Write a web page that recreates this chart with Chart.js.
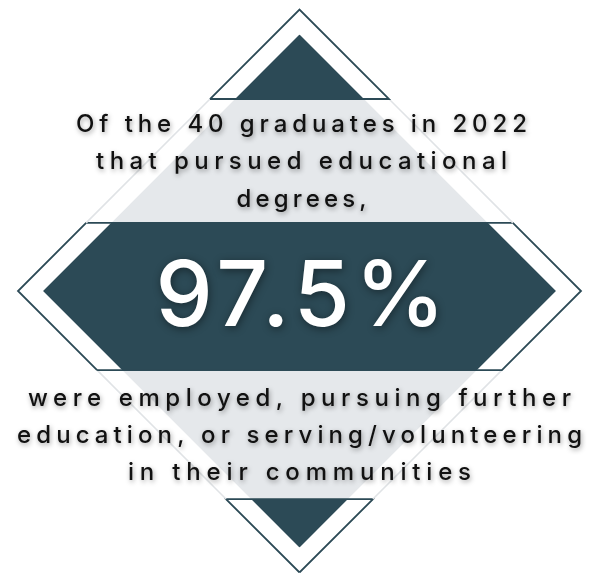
<!DOCTYPE html>
<html>
<head>
<meta charset="utf-8">
<script src="https://cdn.jsdelivr.net/npm/chart.js@4.4.0/dist/chart.umd.min.js"></script>
<style>
  html, body { margin: 0; padding: 0; background: #fff; }
  .wrap { position: relative; width: 603px; height: 573px; }
</style>
</head>
<body>
<div class="wrap"><canvas id="statChart"></canvas></div>
<script>
const graduates = 40;
const cohortYear = 2022;
const successRate = 97.5;
const headlineLines = [`Of the ${graduates} graduates in ${cohortYear}`, 'that pursued educational', 'degrees,'];
const footerLines = ['were employed, pursuing further', 'education, or serving/volunteering', 'in their communities'];

// diamond in unit space: thin outline at radius 1, filled body inset a little
const outlineRadius = 1;
const bodyRadius = 0.911;
// horizontal cuts between the bands, top to bottom
const bandCuts = [0.682, 0.242, -0.281, -0.739];
const bandShades = ['dark', 'light', 'dark', 'light', 'dark'];

const palette = {
  dark: '#2c4a56',
  light: '#e5e8eb',
  lightLine: '#e0e3e6',
  text: '#111',
};

const halfWidth = (radius, y) => Math.max(0, radius - Math.abs(y));

function edgePoints(radius, lo, hi, side) {
  const ys = [lo];
  if (lo < 0 && hi > 0) ys.push(0);
  ys.push(hi);
  return ys.map((y) => ({ x: side * halfWidth(radius, y), y }));
}

function bandRange(i, radius) {
  const top = i === 0 ? radius : Math.min(bandCuts[i - 1], radius);
  const bottom = i === bandShades.length - 1 ? -radius : Math.max(bandCuts[i], -radius);
  return [bottom, top];
}

const outlineSets = [];
const fillSets = [];

bandShades.forEach((shade, i) => {
  // filled body: left edge filled across to right edge
  const [lo, hi] = bandRange(i, bodyRadius);
  fillSets.push({
    data: edgePoints(bodyRadius, lo, hi, -1),
    backgroundColor: palette[shade],
    borderWidth: 0,
    fill: '+1',
    order: 1,
  });
  fillSets.push({
    data: edgePoints(bodyRadius, lo, hi, 1),
    borderWidth: 0,
    fill: false,
    order: 1,
  });

  // outline
  const [olo, ohi] = bandRange(i, outlineRadius);
  const left = edgePoints(outlineRadius, olo, ohi, -1);
  const right = edgePoints(outlineRadius, olo, ohi, 1);
  if (shade === 'dark') {
    outlineSets.push({
      data: [...left, ...right.reverse(), left[0]],
      borderColor: palette.dark,
      borderWidth: 1.8,
      fill: false,
      order: 0,
    });
  } else {
    [left, right].forEach((side) => {
      outlineSets.push({
        data: side,
        borderColor: palette.lightLine,
        borderWidth: 1.6,
        fill: false,
        order: 0,
      });
    });
  }
});

function drawSpacedText(ctx, text, cx, baseline, width) {
  ctx.textAlign = 'left';
  ctx.textBaseline = 'alphabetic';
  if ('letterSpacing' in ctx) {
    ctx.letterSpacing = '0px';
    const natural = ctx.measureText(text).width;
    const gap = text.length > 1 ? (width - natural) / (text.length - 1) : 0;
    ctx.letterSpacing = `${gap}px`;
    ctx.fillText(text, cx - width / 2, baseline);
    ctx.letterSpacing = '0px';
    return;
  }
  const chars = [...text];
  const natural = chars.reduce((sum, c) => sum + ctx.measureText(c).width, 0);
  const gap = chars.length > 1 ? (width - natural) / (chars.length - 1) : 0;
  let x = cx - width / 2;
  chars.forEach((c) => {
    ctx.fillText(c, x, baseline);
    x += ctx.measureText(c).width + gap;
  });
}

const textPlugin = {
  id: 'infographicText',
  afterDatasetsDraw(chart) {
    const { ctx, scales } = chart;
    const cx = scales.x.getPixelForValue(0);

    ctx.save();
    ctx.fillStyle = palette.text;
    ctx.shadowColor = 'rgba(0,0,0,0.38)';
    ctx.shadowBlur = 5;
    ctx.shadowOffsetX = 1;
    ctx.shadowOffsetY = 2;
    ctx.font = '500 24px Inter, "Open Sans", sans-serif';

    const headWidths = [451, 411, 130];
    const headBase = [132, 169, 207];
    headlineLines.forEach((line, i) => drawSpacedText(ctx, line, cx + 2, headBase[i], headWidths[i]));

    const footWidths = [543, 565, 343];
    const footBase = [406, 443, 480];
    footerLines.forEach((line, i) => drawSpacedText(ctx, line, cx, footBase[i], footWidths[i]));

    ctx.fillStyle = '#fff';
    ctx.shadowColor = 'rgba(0,0,0,0.45)';
    ctx.shadowBlur = 8;
    ctx.shadowOffsetX = 1;
    ctx.shadowOffsetY = 2;
    ctx.font = '500 91px Inter, "Open Sans", sans-serif';
    drawSpacedText(ctx, `${successRate}%`, cx + 1, 326, 290);
    ctx.restore();
  },
};

new Chart(document.getElementById('statChart'), {
  type: 'line',
  data: { datasets: [...outlineSets, ...fillSets] },
  options: {
    indexAxis: 'y',
    responsive: true,
    maintainAspectRatio: false,
    animation: false,
    layout: { padding: 0 },
    elements: {
      point: { radius: 0, hoverRadius: 0 },
      line: { tension: 0, borderJoinStyle: 'miter' },
    },
    datasets: { line: { clip: false } },
    scales: {
      x: { type: 'linear', display: false, min: -299.5 / 281.5, max: 303.5 / 281.5 },
      y: { type: 'linear', display: false, min: -282 / 281.5, max: 291 / 281.5 },
    },
    plugins: {
      legend: { display: false },
      tooltip: { enabled: false },
    },
    events: [],
  },
  plugins: [textPlugin],
});
</script>
</body>
</html>
